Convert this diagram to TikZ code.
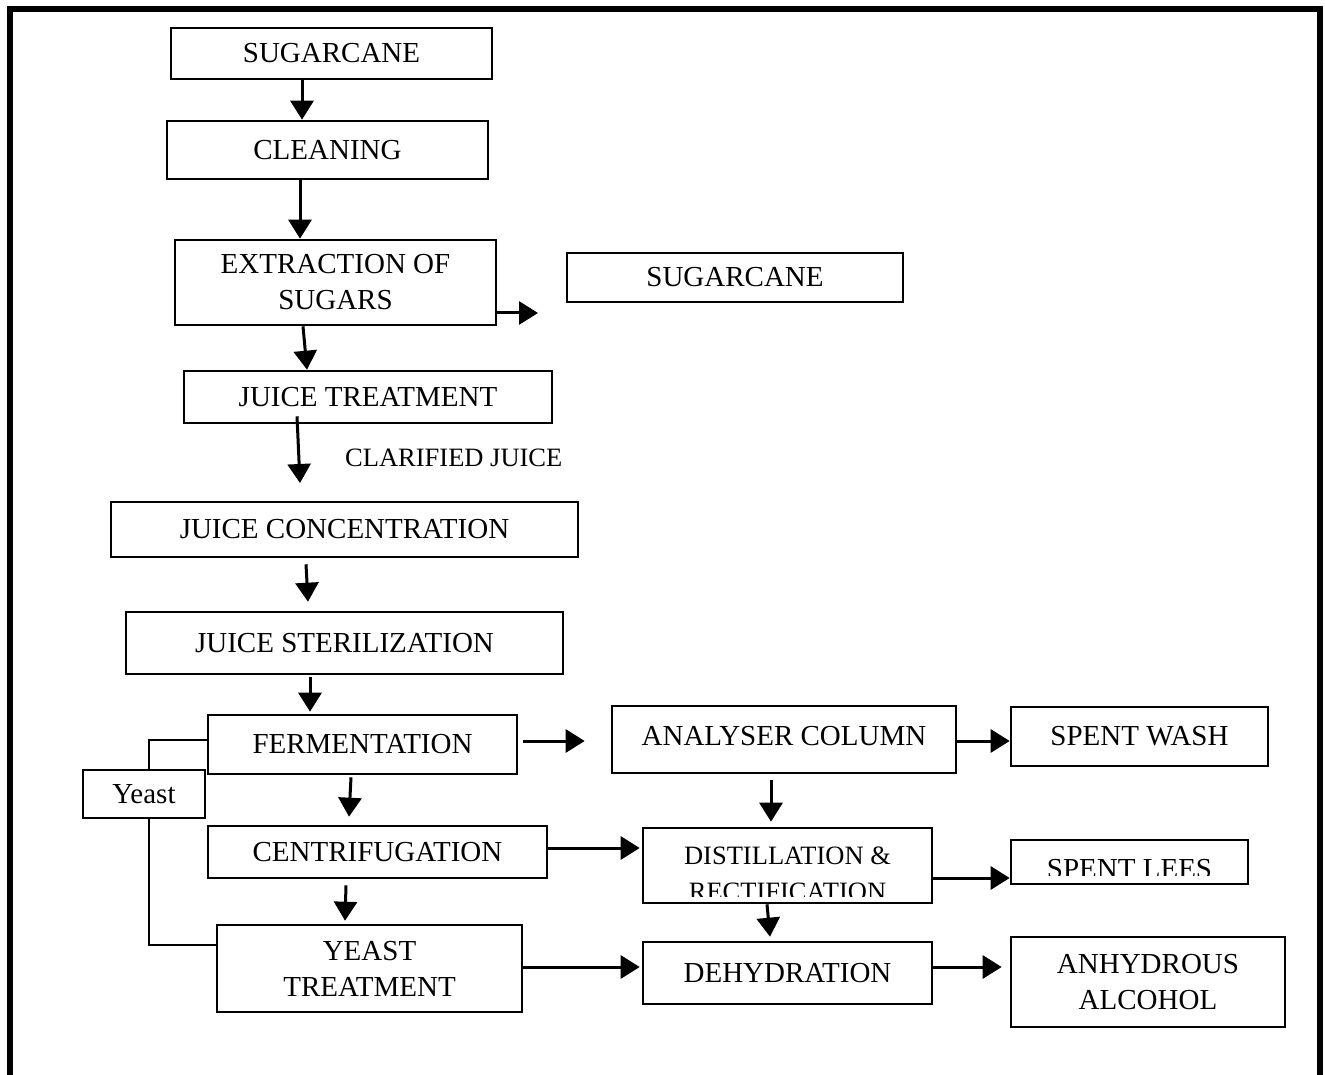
\documentclass[tikz,border=0pt]{standalone}
\usepackage{fontspec}
\setmainfont{Liberation Serif}
\usetikzlibrary{arrows.meta}
\begin{document}
\begin{tikzpicture}[x=1pt,y=-1pt,
  box/.style={draw, line width=2.6pt, inner sep=0pt, align=center,
    font=\fontsize{29}{36}\selectfont},
  ebox/.style={draw, line width=2.6pt, inner sep=0pt},
  txt/.style={inner sep=0pt, font=\fontsize{29}{36}\selectfont},
  stxt/.style={inner sep=0pt, font=\fontsize{26.5}{33}\selectfont},
  arr/.style={line width=3pt, -{Triangle[width=23pt,length=19pt]}},
  thin/.style={line width=1.2pt}]
\useasboundingbox (0,0) rectangle (1325,1075);
% frame
\draw[line width=6.5pt] (10,1075) -- (10,9) -- (1320,9) -- (1320,1075);

% boxes
\node[box, minimum width=321pt, minimum height=51pt] (sug) at (331.5,53.5) {SUGARCANE};
\node[box, minimum width=321pt, minimum height=58pt] (cle) at (327.5,150) {CLEANING};
\node[box, minimum width=321pt, minimum height=85pt] (ext) at (335.5,282.5) {EXTRACTION OF\\SUGARS};
\node[box, minimum width=336pt, minimum height=49pt] (sug2) at (735,277.5) {SUGARCANE};
\node[box, minimum width=368pt, minimum height=52pt] (jt) at (368,397) {JUICE TREATMENT};
\node[stxt, anchor=base west] (clar) at (345,466) {CLARIFIED JUICE};
\node[box, minimum width=467pt, minimum height=55pt] (jc) at (344.5,529.5) {JUICE CONCENTRATION};
\node[box, minimum width=437pt, minimum height=62pt] (js) at (344.5,643) {JUICE STERILIZATION};
\node[box, minimum width=309pt, minimum height=59pt] (ferm) at (362.5,744.5) {FERMENTATION};
\node[box, minimum width=122pt, minimum height=48pt] (yeast) at (144,794) {Yeast};
\node[box, minimum width=339pt, minimum height=52pt] (cen) at (377.5,852) {CENTRIFUGATION};
\node[box, minimum width=305pt, minimum height=87pt] (yt) at (369.5,968.5) {YEAST\\TREATMENT};
\node[ebox, minimum width=344pt, minimum height=67pt] (ana) at (784,739.5) {};
\node[txt, anchor=base] (anat) at (784,745) {ANALYSER COLUMN};
\node[box, minimum width=257pt, minimum height=59pt] (sw) at (1139.5,736.5) {SPENT WASH};
\node[ebox, minimum width=289pt, minimum height=75pt] (dist) at (787.5,865.5) {};
\node[ebox, minimum width=237pt, minimum height=44pt] (sl) at (1129.5,862) {};
\node[box, minimum width=289pt, minimum height=62pt] (dh) at (787.5,973) {DEHYDRATION};
\node[box, minimum width=274pt, minimum height=90pt] (anh) at (1148,982) {ANHYDROUS\\ALCOHOL};

% clipped texts
\begin{scope}
  \clip (645,830) rectangle (930,896);
  \node[stxt, anchor=base] (dist1) at (787.5,864) {DISTILLATION \&};
  \node[stxt, anchor=base] (dist2) at (787.5,900) {RECTIFICATION};
\end{scope}
\begin{scope}
  \clip (1013,842) rectangle (1246,875);
  \node[txt, anchor=base] (sl1) at (1129.5,878) {SPENT LEES};
\end{scope}

% free ends
\coordinate (extout) at (538,313);
\coordinate (jtout) at (300,483);

% arrows
\draw[arr] ([xshift=-29.5pt]sug.south) -- ([xshift=-25.5pt]cle.north);
\draw[arr] ([xshift=-27.5pt]cle.south) -- ([xshift=-35.5pt]ext.north);
\draw[arr] ([xshift=-32.5pt]ext.south) -- ([xshift=-61pt]jt.north);
\draw[arr] ([yshift=-30.5pt]ext.east) -- (extout);
\draw[arr] ([xshift=-71pt,yshift=8pt]jt.south) -- (jtout);
\draw[arr] ([xshift=-38.5pt,yshift=-6pt]jc.south) -- ([xshift=-36.5pt,yshift=9pt]js.north);
\draw[arr] ([xshift=-34.5pt,yshift=-2pt]js.south) -- ([xshift=-52.5pt,yshift=2pt]ferm.north);
\draw[arr] ([xshift=-11.5pt,yshift=-2pt]ferm.south) -- ([xshift=-28.5pt,yshift=8pt]cen.north);
\draw[arr] ([xshift=-31.5pt,yshift=-6pt]cen.south) -- ([xshift=-24.5pt,yshift=3pt]yt.north);
\draw[arr] ([xshift=5pt,yshift=3.5pt]ferm.east) -- ([xshift=-26pt,yshift=-1.5pt]ana.west);
\draw[arr] ([yshift=-1.5pt]ana.east) -- ([yshift=-4.5pt]sw.west);
\draw[arr] ([xshift=-13pt,yshift=-6pt]ana.south) -- ([xshift=-16.5pt,yshift=5pt]dist.north);
\draw[arr] ([yshift=4pt]cen.east) -- ([xshift=-2pt,yshift=17.5pt]dist.west);
\draw[arr] ([yshift=-12.5pt]dist.east) -- ([yshift=-16pt]sl.west);
\draw[arr] ([xshift=-20.5pt]dist.south) -- ([xshift=-17.5pt,yshift=4pt]dh.north);
\draw[arr] ([yshift=1.5pt]yt.east) -- ([xshift=-2pt,yshift=6pt]dh.west);
\draw[arr] ([yshift=6pt]dh.east) -- ([xshift=-8pt,yshift=15pt]anh.west);

% yeast loop
\draw[thin] ([yshift=4.5pt]ferm.west) -| ([xshift=5pt]yeast.north);
\draw[thin] ([xshift=5pt]yeast.south) |- ([yshift=23.5pt]yt.west);
\end{tikzpicture}
\end{document}
